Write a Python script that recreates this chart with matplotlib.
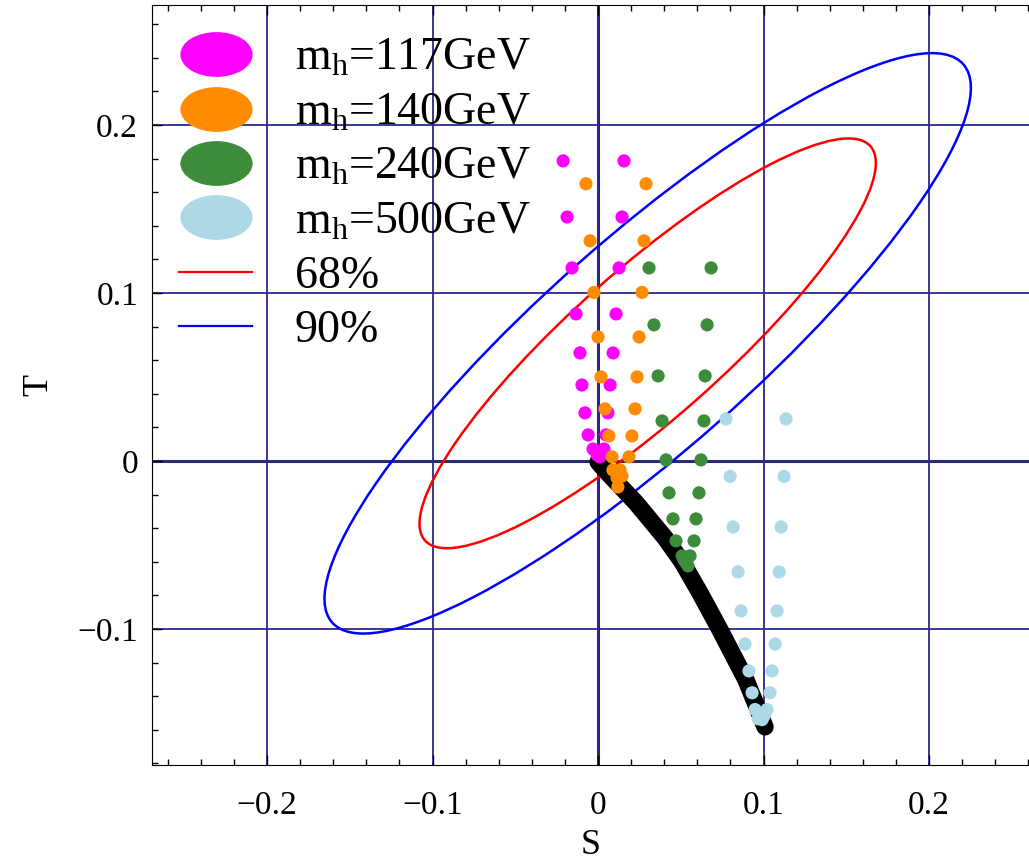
import numpy as np
import matplotlib
matplotlib.use("Agg")
import matplotlib.pyplot as plt
from matplotlib.patches import Ellipse
from matplotlib.lines import Line2D
from matplotlib.path import Path

plt.rcParams['font.family'] = ['Liberation Serif', 'DejaVu Serif']
plt.rcParams['mathtext.fontset'] = 'custom'
plt.rcParams['mathtext.rm'] = 'Liberation Serif'
plt.rcParams['mathtext.it'] = 'Liberation Serif:italic'

# S,T values
s_117 = [-0.0211, 0.0157, -0.0187, 0.0145, -0.0157, 0.0127, -0.0133, 0.0109, -0.0109, 0.0091,
         -0.0097, 0.0073, -0.0079, 0.006, -0.006, 0.0048, -0.003, 0.0036, -0.0006, 0.0012]
t_117 = [0.1786, 0.1786, 0.1452, 0.1452, 0.1149, 0.1149, 0.0875, 0.0875, 0.0643, 0.0643,
         0.0452, 0.0452, 0.0286, 0.0286, 0.0155, 0.0155, 0.0071, 0.0071, 0.0036, 0.0024]

s_140 = [-0.0073, 0.029, -0.0048, 0.0278, -0.0024, 0.0266, 0.0, 0.0248, 0.0018, 0.0236,
         0.0042, 0.0224, 0.0066, 0.0205, 0.0085, 0.0187, 0.009, 0.0133, 0.0115, 0.012, 0.0145]
t_140 = [0.165, 0.165, 0.131, 0.131, 0.1003, 0.1003, 0.0738, 0.0738, 0.05, 0.05,
         0.031, 0.031, 0.0149, 0.0149, 0.0024, 0.0024, -0.0054, -0.0054, -0.010, -0.0155, -0.009]

s_240 = [0.0308, 0.0683, 0.0338, 0.0659, 0.0363, 0.0647, 0.0387, 0.064, 0.0411, 0.0622,
         0.0429, 0.061, 0.0453, 0.0592, 0.0471, 0.058, 0.0508, 0.0556, 0.0532, 0.0544, 0.052]
t_240 = [0.1149, 0.1149, 0.081, 0.081, 0.0506, 0.0506, 0.0238, 0.0238, 0.0006, 0.0006,
         -0.019, -0.019, -0.0345, -0.0345, -0.0476, -0.0476, -0.0565, -0.0565, -0.0607, -0.0625, -0.059]

s_500 = [0.0773, 0.1136, 0.0798, 0.1124, 0.0816, 0.1106, 0.0846, 0.1094, 0.0864, 0.1082,
         0.0888, 0.107, 0.0912, 0.1051, 0.0931, 0.1039, 0.0949, 0.1021, 0.0979, 0.1003, 0.0991, 0.0967]
t_500 = [0.025, 0.025, -0.0092, -0.0092, -0.0393, -0.0393, -0.0661, -0.0661, -0.0893, -0.0893,
         -0.109, -0.109, -0.125, -0.125, -0.138, -0.138, -0.148, -0.148, -0.1518, -0.1518, -0.154, -0.1535]

# black band (scan)
s_scan = [0.0, 0.0042, 0.0230, 0.0405, 0.0508, 0.0616, 0.0737, 0.0894, 0.1009]
t_scan = [-0.0006, -0.0054, -0.0250, -0.0458, -0.0601, -0.0786, -0.1006, -0.1304, -0.1583]

# fit ellipse: centre, errors, correlation, sqrt(chi2) for 68% / 90%
s0, t0 = 0.03, 0.07
sig_s, sig_t, rho = 0.091, 0.0805, 0.88
cl_k = [1.515, 2.146]
cl_colors = ['#ff0000', '#0000ff']
cl_labels = ['68%', '90%']

series = [(s_117, t_117, '#ff00ff', 'm$_{\\mathrm{h}}$=117GeV'),
          (s_140, t_140, '#ff8c00', 'm$_{\\mathrm{h}}$=140GeV'),
          (s_240, t_240, '#3c8c3c', 'm$_{\\mathrm{h}}$=240GeV'),
          (s_500, t_500, '#add8e6', 'm$_{\\mathrm{h}}$=500GeV')]

fig = plt.figure(figsize=(10.29, 8.64), dpi=100)
ax = fig.add_axes([152/1029, 99/864, 877/1029, 760/864])

ax.set_xlim(-0.2695, 0.2604)
ax.set_ylim(-0.181, 0.2714)

major = [-0.2, -0.1, 0.0, 0.1, 0.2]
ax.set_xticks(major)
ax.set_xticklabels(['\u22120.2', '\u22120.1', '0', '0.1', '0.2'])
ax.set_yticks([-0.1, 0.0, 0.1, 0.2])
ax.set_yticklabels(['\u22120.1', '0', '0.1', '0.2'])
ax.set_xticks(np.arange(-0.26, 0.261, 0.02), minor=True)
ax.set_yticks(np.arange(-0.18, 0.271, 0.02), minor=True)
ax.tick_params(which='both', direction='in', top=True, right=False, labelsize=24, width=1)
ax.tick_params(which='major', length=7)
ax.tick_params(which='minor', length=4)
ax.tick_params(axis='y', pad=10)
ax.tick_params(axis='x', pad=18)
ax.spines['right'].set_visible(False)

ax.grid(which='major', color='#2a2a90', lw=1.3)
ax.axhline(0, color='#2a2a4a', lw=2.2, zorder=1)
ax.axvline(0, color='#2a2a4a', lw=2.2, zorder=1)

cov = np.array([[sig_s**2, rho*sig_s*sig_t], [rho*sig_s*sig_t, sig_t**2]])
vals, vecs = np.linalg.eigh(cov)
ang = np.degrees(np.arctan2(vecs[1, 1], vecs[0, 1]))
for k, c in zip(cl_k, cl_colors):
    ax.add_patch(Ellipse((s0, t0), 2*k*np.sqrt(vals[1]), 2*k*np.sqrt(vals[0]), angle=ang,
                         fill=False, ec=c, lw=1.8, zorder=3))

ax.plot(s_scan, t_scan, color='black', lw=12.5, solid_capstyle='round',
        solid_joinstyle='round', zorder=4)
for s, t, c, lab in series:
    ax.scatter(s, t, s=90, color=c, edgecolors='none', zorder=5)

ax.set_xlabel('S', fontsize=26, labelpad=6)
ax.set_ylabel('T', fontsize=26, labelpad=16)

circ = Path.unit_circle()
oval = Path(circ.vertices * np.array([1.0, 0.62]), circ.codes)
handles = [Line2D([], [], ls='none', marker=oval, ms=52, color=c, mec='none') for _, _, c, _ in series]
handles += [Line2D([], [], color=c, lw=1.6) for c in cl_colors]
labels = [lab for _, _, _, lab in series] + cl_labels
ax.legend(handles, labels, loc='upper left', bbox_to_anchor=(0.031, 0.957), frameon=False,
          fontsize=33, handlelength=1.59, handletextpad=0.93, labelspacing=0.26,
          borderpad=0, borderaxespad=0)

fig.savefig('out.png', dpi=100)
